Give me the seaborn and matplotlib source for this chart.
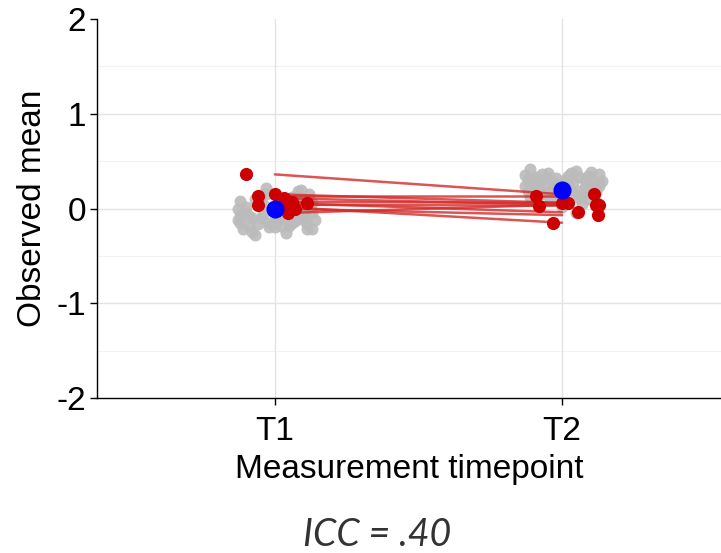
import numpy as np
import pandas as pd
import matplotlib.pyplot as plt
import seaborn as sns

# data
timepoints = ['T1', 'T2']

# background (gray) observations: jitter offset and observed mean
gray_t1_jit = [-0.13, -0.11, -0.12, -0.09, -0.10, -0.07, -0.05, -0.08, -0.04, -0.02,
               0.00, 0.02, 0.03, 0.05, 0.06, 0.08, 0.09, 0.10, 0.12, 0.13,
               0.11, 0.07, 0.04, -0.01, -0.03, -0.06, -0.12, 0.01, 0.05, 0.09,
               0.12, -0.10, -0.08, 0.03, 0.10, -0.02, 0.06, 0.13, -0.05, 0.00,
               -0.13, -0.09, -0.06, -0.03, 0.02, 0.06, 0.09, 0.12, 0.14, -0.11,
               -0.07, 0.04, 0.08, 0.11, -0.04, 0.01, 0.13, -0.12, 0.07, 0.10]
gray_t1_y = [-0.12, -0.05, 0.08, -0.18, 0.02, -0.28, -0.10, -0.25, 0.05, -0.15,
             -0.20, -0.08, 0.10, -0.18, 0.12, 0.18, 0.05, -0.12, 0.15, -0.05,
             -0.22, -0.02, -0.26, 0.00, 0.22, 0.05, -0.15, -0.12, 0.03, 0.20,
             0.08, -0.05, -0.10, -0.02, -0.08, -0.20, -0.15, -0.22, 0.12, -0.14,
             0.00, -0.08, -0.16, 0.15, -0.18, 0.08, -0.06, 0.02, -0.12, -0.22,
             0.10, -0.10, 0.12, -0.16, -0.06, 0.06, 0.06, -0.08, -0.13, 0.00]
gray_t2_jit = [-0.13, -0.11, -0.12, -0.09, -0.10, -0.07, -0.05, -0.08, -0.04, -0.02,
               0.00, 0.02, 0.03, 0.05, 0.06, 0.08, 0.09, 0.10, 0.12, 0.13,
               0.11, 0.07, 0.04, -0.01, -0.03, -0.06, -0.12, 0.01, 0.05, 0.09,
               0.12, -0.10, -0.08, 0.03, 0.10, -0.02, 0.06, 0.13, -0.05, 0.00,
               -0.13, -0.09, -0.06, -0.03, 0.02, 0.06, 0.09, 0.12, 0.14, -0.11,
               -0.07, 0.04, 0.08, 0.11, -0.04, 0.01, 0.13, -0.12, 0.07, 0.10]
gray_t2_y = [0.35, 0.42, 0.28, 0.22, 0.30, 0.15, 0.38, 0.25, 0.18, 0.32,
             0.12, 0.27, 0.20, 0.40, 0.33, 0.23, 0.10, 0.30, 0.17, 0.36,
             0.25, 0.05, 0.28, 0.14, 0.22, 0.31, 0.19, 0.26, -0.05, 0.34,
             0.08, 0.29, 0.21, 0.37, 0.16, 0.24, 0.11, 0.27, 0.33, 0.02,
             0.24, 0.33, 0.20, 0.28, 0.34, 0.18, 0.26, 0.22, 0.29, 0.12,
             0.36, 0.15, 0.30, 0.20, 0.10, 0.30, 0.24, 0.31, 0.14, 0.39]

# highlighted (red) individuals
red_t1_y = [0.36, 0.13, 0.15, 0.04, 0.11, 0.07, 0.06, 0.00, 0.02, -0.05]
red_t2_y = [0.15, 0.13, 0.06, 0.03, 0.04, 0.06, -0.04, -0.07, -0.15, 0.04]
red_t1_jit = [-0.10, -0.06, 0.00, -0.06, 0.03, 0.06, 0.11, 0.07, 0.035, 0.045]
red_t2_jit = [0.11, -0.09, 0.00, -0.08, 0.12, 0.02, 0.055, 0.125, -0.03, 0.13]

mean_y = [0.00, 0.20]

gray = pd.DataFrame({
    'x': [1 + j for j in gray_t1_jit] + [2 + j for j in gray_t2_jit],
    'y': gray_t1_y + gray_t2_y})
n = len(red_t1_y)
red_lines = pd.DataFrame({
    'id': list(range(n)) * 2,
    'x': [1] * n + [2] * n,
    'y': red_t1_y + red_t2_y})
red_pts = pd.DataFrame({
    'x': [1 + j for j in red_t1_jit] + [2 + j for j in red_t2_jit],
    'y': red_t1_y + red_t2_y})
means = pd.DataFrame({'x': [1, 2], 'y': mean_y})

sns.set_style('white')
plt.rcParams['font.family'] = ['Liberation Sans', 'DejaVu Sans']

fig = plt.figure(figsize=(7.21, 5.53), dpi=100)
ax = fig.add_axes([0.1345, 0.2803, 0.8655, 0.6853])

# grid
for v in [-1.5, -0.5, 0.5, 1.5]:
    ax.axhline(v, color='#F2F2F2', lw=0.8, zorder=0)
for v in [-1, 0, 1]:
    ax.axhline(v, color='#E3E3E3', lw=1.0, zorder=0)
for v in [1, 2]:
    ax.axvline(v, color='#E3E3E3', lw=1.0, zorder=0)

sns.scatterplot(data=gray, x='x', y='y', color='#BBBBBB', s=75, alpha=0.9,
                linewidth=0, ax=ax, zorder=2)
sns.lineplot(data=red_lines, x='x', y='y', units='id', estimator=None,
             color='#D42A2A', alpha=0.8, lw=1.8, ax=ax, zorder=3)
sns.scatterplot(data=red_pts, x='x', y='y', color='#CC0000', s=90,
                linewidth=0, ax=ax, zorder=4)
sns.scatterplot(data=means, x='x', y='y', color='#0000FF', s=170,
                linewidth=0, ax=ax, zorder=5)

ax.set_xlim(0.38, 2.554)
ax.set_ylim(-2, 2)
ax.set_xticks([1, 2])
ax.set_xticklabels(timepoints)
ax.set_yticks([-2, -1, 0, 1, 2])
ax.set_yticklabels(['-2', '-1', '0', '1', '2'])
ax.tick_params(axis='both', labelsize=24, length=5, width=1, color='black',
               labelcolor='black', direction='out', bottom=True, left=True, pad=3)
ax.tick_params(axis='x', pad=8)
ax.set_xlabel('Measurement timepoint', fontsize=24, labelpad=5, color='black')
ax.set_ylabel('Observed mean', fontsize=24, labelpad=6, color='black')

for s in ['top', 'right']:
    ax.spines[s].set_visible(False)
for s in ['left', 'bottom']:
    ax.spines[s].set_color('black')
    ax.spines[s].set_linewidth(1.0)

fig.text(0.523, 0.012, 'ICC = .40', ha='center', va='baseline', fontsize=27,
         family=['Lato', 'DejaVu Sans'], fontweight='normal', style='italic',
         color='#333333')

fig.savefig('out.png', dpi=100)
